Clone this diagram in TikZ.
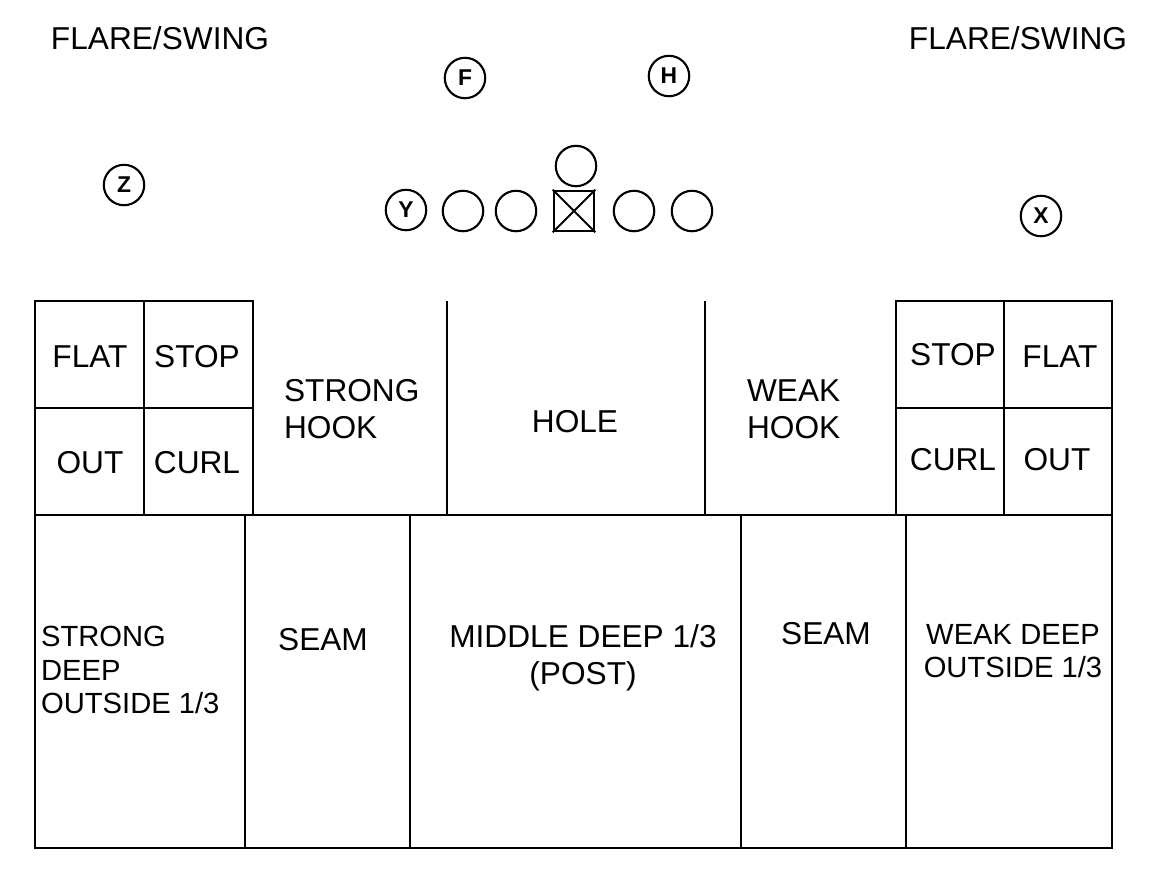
\documentclass[tikz,border=0pt]{standalone}
\usepackage{fontspec}
\setmainfont{Liberation Sans}
\begin{document}
\begin{tikzpicture}[x=0.01cm,y=-0.01cm,line width=0.6pt,
  lbl/.style={inner sep=0pt,font=\fontsize{9}{10.5}\selectfont},
  player/.style={draw,circle,minimum size=11.5pt,inner sep=0pt,font=\fontsize{6.5}{7}\selectfont\bfseries},
  lineman/.style={draw,circle,minimum size=11.5pt,inner sep=0pt},
  snapper/.style={draw,minimum size=11.5pt,inner sep=0pt}]
      \useasboundingbox (0,0) rectangle (1156,875);
      %labels on top
      \node[lbl] (fl) at (160,38) {FLARE/SWING};
      \node[lbl] (fr) at (1018,38) {FLARE/SWING};
      %offense
      \node[player] (F) at (465,78) {F};
      \node[player] (H) at (669,76) {H};
      \node[player] (Z) at (124,185) {Z};
      \node[player] (Y) at (406,210) {Y};
      \node[player] (X) at (1041,216) {X};
      \node[lineman] (lt) at (463,211) {};
      \node[lineman] (lg) at (516,211) {};
      \node[snapper] (C) at (574,211) {};
      \draw (C.north west) -- (C.south east) (C.north east) -- (C.south west);
      \node[lineman] (qb) at (576,166) {};
      \node[lineman] (rg) at (634,211) {};
      \node[lineman] (rt) at (692,211) {};
      %underneath zones
      \draw (35,301) rectangle (253,515);
      \draw (144,301) -- (144,515) (35,408) -- (253,408);
      \draw (896,301) rectangle (1112,515);
      \draw (1004,301) -- (1004,515) (896,408) -- (1112,408);
      \draw (447,301) -- (447,515) (705,301) -- (705,515);
      %deep zones
      \draw (35,515) rectangle (1112,848);
      \foreach \x in {245,410,741,906} \draw (\x,515) -- (\x,848);
      \node[lbl] (flatl) at (90,357) {FLAT};
      \node[lbl] (stopl) at (197,357) {STOP};
      \node[lbl] (outl) at (90,463) {OUT};
      \node[lbl] (curll) at (197,463) {CURL};
      \node[lbl,anchor=west,align=left] (shook) at (283,409) {STRONG\\HOOK};
      \node[lbl] (hole) at (575,422) {HOLE};
      \node[lbl,anchor=west,align=left] (whook) at (746,409) {WEAK\\HOOK};
      \node[lbl] (stopr) at (953,355) {STOP};
      \node[lbl] (flatr) at (1060,357) {FLAT};
      \node[lbl] (curlr) at (953,460) {CURL};
      \node[lbl] (outr) at (1057,460) {OUT};
      \node[lbl,anchor=west,align=left,font=\fontsize{8.3}{9.6}\selectfont] (sdeep) at (40,670) {STRONG\\DEEP\\OUTSIDE 1/3};
      \node[lbl] (seaml) at (323,640) {SEAM};
      \node[lbl,align=center] (mdeep) at (583,658) {MIDDLE DEEP 1/3\\(POST)};
      \node[lbl] (seamr) at (826,634) {SEAM};
      \node[lbl,align=center,font=\fontsize{8.3}{9.6}\selectfont] (wdeep) at (1013,651) {WEAK DEEP\\OUTSIDE 1/3};
\end{tikzpicture}
\end{document}
